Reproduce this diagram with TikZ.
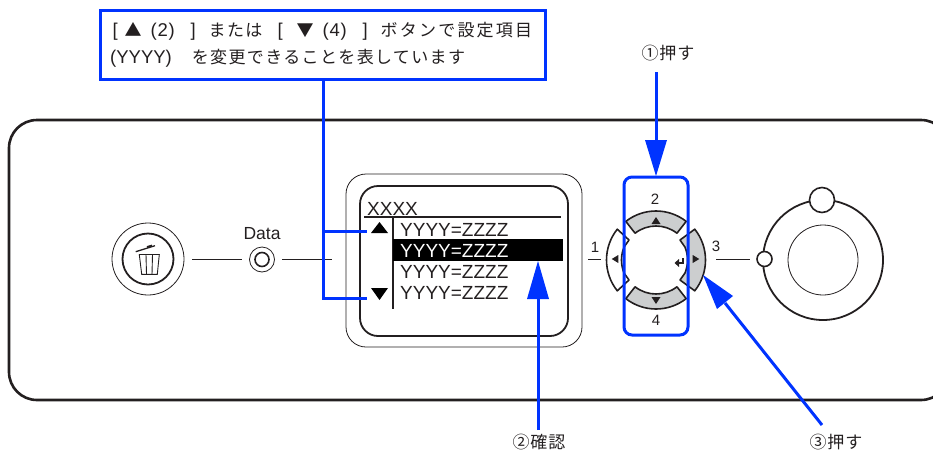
\documentclass[tikz,border=0pt]{standalone}
\usepackage{fontspec}
\setmainfont{Liberation Sans}
\newfontfamily\jp[LetterSpace=8]{Noto Sans CJK JP}
\newfontfamily\jpw[LetterSpace=13]{Noto Sans CJK JP}
\newfontfamily\jplab[LetterSpace=5]{Noto Sans CJK JP}
\newcommand{\latn}[1]{{\rmfamily\fontsize{18.5}{18.5}\selectfont #1}}
\newcommand{\placeat}[2]{\rlap{\kern#1pt #2}}
\usetikzlibrary{calc}
\definecolor{cblue}{RGB}{0,51,255}
\definecolor{bgray}{RGB}{204,206,207}
\definecolor{ink}{RGB}{35,31,32}
\tikzset{
  x=1pt,y=1pt,
  ink line/.style={draw=ink,line width=1.6pt},
  thin ink/.style={draw=ink,line width=0.8pt},
  blue line/.style={draw=cblue,line width=3pt},
  lcdtext/.style={font=\fontsize{19}{19}\selectfont,text=ink,anchor=base west,inner sep=0pt},
  numlabel/.style={font=\fontsize{15}{15}\selectfont,text=ink,inner sep=0pt},
  callabel/.style={font=\fontsize{17}{17}\jplab\selectfont,text=ink,inner sep=0pt},
  calltext/.style={anchor=base west,inner sep=0pt,font=\fontsize{17}{17}\jp\selectfont,text=ink},
  btnhole/.style={circle,draw=ink,line width=1.6pt,fill=white,inner sep=0pt},
}
\begin{document}
\begin{tikzpicture}
\useasboundingbox (0,0) rectangle (933,-453);
\clip (0,0) rectangle (933,-453);
% panel
\draw[ink,line width=2.6pt,rounded corners=28pt] (9,-120) rectangle (949,-400);
% trash button
\node[circle,thin ink,minimum size=72pt,inner sep=0pt] (trashO) at (148,-259) {};
\node[circle,draw=ink,line width=1.8pt,minimum size=51pt,inner sep=0pt] (trashI) at (148,-259) {};
\draw[ink,line width=1.3pt] (135.7,-251.7) -- (155,-245.7);
\draw[ink,line width=1.8pt] (147,-247) -- (152,-245.5);
\draw[ink,line width=0.9pt] (139.3,-254.5) -- (159.3,-254.5) -- (157.3,-274.3) -- (141.7,-274.3) -- cycle
  (146,-254.5) -- (146.5,-274.3) (152.5,-254.5) -- (152,-274.3);
% data led
\node[numlabel,font=\fontsize{17.5}{17.5}\selectfont] (datal) at (262,-234) {Data};
\node[circle,thin ink,minimum size=25pt,inner sep=0pt] (ledO) at (262,-259.5) {};
\node[circle,draw=ink,line width=1.6pt,minimum size=14pt,inner sep=0pt] (ledI) at (262,-259.5) {};
\coordinate (trashE) at (192,-259);
\coordinate (panelE) at (332,-259);
\draw[thin ink] (trashE) -- (242,-259);
\draw[thin ink] (282,-259) -- (panelE);
% lcd
\node[rectangle,draw=ink,line width=0.8pt,rounded corners=20pt,minimum width=236pt,minimum height=173pt,inner sep=0pt] (lcdO) at (464,-260.5) {};
\node[rectangle,draw=ink,line width=1.8pt,rounded corners=18pt,minimum width=208pt,minimum height=150pt,inner sep=0pt] (lcdI) at (464,-261) {};
\node[lcdtext] (xxxx) at (367,-215) {XXXX};
\coordinate (hl) at (364,-217);
\coordinate (hr) at (561,-217);
\coordinate (vt) at (393,-217);
\coordinate (vb) at (393,-309);
\draw[ink,line width=1.3pt] (hl) -- (hr);
\draw[ink,line width=1.3pt] (vt) -- (vb);
\node[rectangle,fill=black,minimum width=170pt,minimum height=22pt,inner sep=0pt] (bar) at (478,-250) {};
\node[lcdtext] (r1) at (400,-236) {YYYY=ZZZZ};
\node[lcdtext,text=white] (r2) at (400,-257) {YYYY=ZZZZ};
\node[lcdtext] (r3) at (400,-278) {YYYY=ZZZZ};
\node[lcdtext] (r4) at (400,-299) {YYYY=ZZZZ};
\fill[black] (371,-233) -- (379.5,-222) -- (388,-233) -- cycle;
\fill[black] (371,-288) -- (379.5,-300) -- (388,-288) -- cycle;
% direction buttons
\begin{scope}[shift={(656,-260)}]
\coordinate (cc) at (0,0);
\draw[fill=bgray,ink line,line join=round] (128:49pt) arc (128:52:49pt) -- (52:34pt) arc (52:128:34pt) -- cycle;
\draw[fill=bgray,ink line,line join=round] (-128:49pt) arc (-128:-52:49pt) -- (-52:34pt) arc (-52:-128:34pt) -- cycle;
\draw[fill=bgray,ink line,line join=round] (38.5:49.5pt) arc (38.5:-38.5:49.5pt) -- (24,-20) -- (29,-13) arc (-22:22:34.5pt) -- (24,20) -- cycle;
\draw[fill=white,ink line,line join=round] (141.5:49.5pt) arc (141.5:218.5:49.5pt) -- (-27,-20) -- (-32,-13) arc (202:158:34.5pt) -- (-27,20) -- cycle;
\fill[ink] (-4.5,36) -- (4.5,36) -- (0,43) -- cycle;
\fill[ink] (-4.5,-37) -- (4.5,-37) -- (0,-44) -- cycle;
\fill[ink] (-37.7,-3) -- (-37.7,5) -- (-44.3,1) -- cycle;
\fill[ink] (36.7,-3) -- (36.7,5) -- (43.3,1) -- cycle;
\draw[ink,line width=1.5pt] (27,2) -- (27,-3) -- (21,-3);
\fill[ink] (23,-7) -- (23,1) -- (18.5,-3) -- cycle;
\end{scope}
\node[numlabel] (n2) at (655,-199) {2};
\node[numlabel] (n4) at (656,-320) {4};
\node[numlabel] (n1) at (595,-247) {1};
\node[numlabel] (n3) at (716,-246) {3};
\coordinate (lb1) at (588,-259);
\coordinate (lb2) at (601,-259);
\draw[thin ink] (lb1) -- (lb2);
% dial
\node[circle,draw=ink,minimum size=120pt,inner sep=0pt,line width=1.8pt] (dial) at (823,-260) {};
\node[circle,thin ink,minimum size=70pt,inner sep=0pt] (dialI) at (823,-260) {};
\node[btnhole,minimum size=25pt] (dialT) at (822,-200) {};
\node[btnhole,minimum size=15pt] (dialL) at (764.5,-259) {};
\coordinate (rb) at (716,-259);
\draw[thin ink] (rb) -- (750,-259);
% blue overlays
\node[rectangle,draw=cblue,line width=3pt,rounded corners=8pt,minimum width=64pt,minimum height=158pt,inner sep=0pt] (sel) at (656,-256) {};
\node[rectangle,blue line,fill=white,minimum width=445pt,minimum height=69pt,inner sep=0pt] (call) at (322.5,-44.5) {};
\node[calltext] (c1) at (112,-36) {\placeat{0}{\latn{[}}\placeat{12}{▲}\placeat{38}{\latn{(\kern.8pt 2\kern.8pt)}}\placeat{78}{\latn{]}}\placeat{96}{または}\placeat{165}{\latn{[}}\placeat{184}{▼}\placeat{210}{\latn{(\kern.8pt 4\kern.8pt)}}\placeat{250}{\latn{]}}\placeat{268}{\jpw ボタンで設定項目}};
\node[calltext] (c2) at (110,-63) {\latn{(YYYY)}\kern20pt を変更できることを表しています};
\coordinate (tu) at (367,-231);
\coordinate (td) at (367,-298);
\coordinate (j1) at (323,-231);
\coordinate (j2) at (323,-298);
\draw[blue line] (call.south -| j1) -- (j2) -- (td);
\draw[blue line] (j1) -- (tu);
% arrows
\node[callabel] (l1) at (668,-53) {①押す};
\node[callabel] (l2) at (539,-442) {②確認};
\node[callabel] (l3) at (836,-442) {③押す};
\coordinate (a1t) at (656,-72);
\coordinate (a1h) at (656,-176);
\draw[blue line] (a1t) -- (656,-140);
\fill[cblue] (645,-140) -- (667,-140) -- (a1h) -- cycle;
\coordinate (a2t) at (538,-430);
\coordinate (a2h) at (538,-261);
\draw[blue line] (a2t) -- (538,-299);
\fill[cblue] (527,-299) -- (549,-299) -- (a2h) -- cycle;
\coordinate (a3t) at (822,-425);
\coordinate (a3h) at (703,-275);
\draw[blue line] (a3t) -- (725,-303);
\fill[cblue] (717,-309) -- (733,-296) -- (a3h) -- cycle;
\end{tikzpicture}
\end{document}
